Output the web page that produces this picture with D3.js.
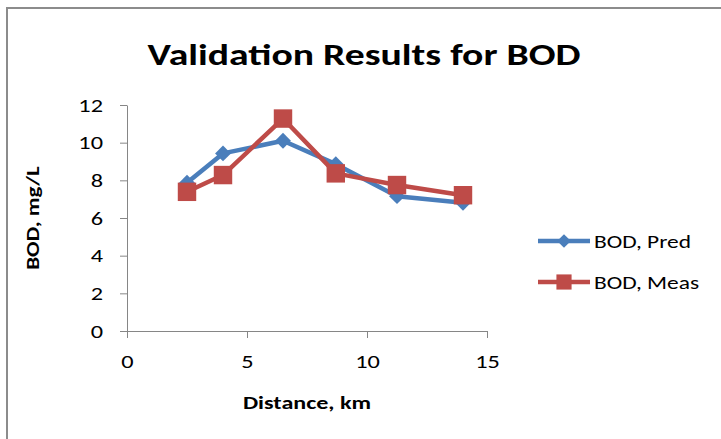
<!DOCTYPE html>
<html>
<head>
<meta charset="utf-8">
<script src="https://cdn.jsdelivr.net/npm/d3@7"></script>
<style>
  body { margin: 0; background: #fff; }
  text { font-family: Carlito, Lato, "Open Sans", sans-serif; }
</style>
</head>
<body>
<div id="chart"></div>
<script>
// Daten
const distance = [2.5, 4.0, 6.5, 8.7, 11.25, 14.0];
const bodPred = [7.87, 9.43, 10.1, 8.86, 7.16, 6.81];
const bodMeas = [7.39, 8.28, 11.28, 8.37, 7.75, 7.21];
const xTicks = [0, 5, 10, 15];
const yTicks = [0, 2, 4, 6, 8, 10, 12];
const seriesNames = ["BOD, Pred", "BOD, Meas"];
const seriesColors = ["#4a7ebb", "#be4b48"];

const W = 721, H = 439;
const STRETCH = 1.28; // Schrift im Original ist horizontal gestreckt

const svg = d3.select("#chart").append("svg")
    .attr("width", W)
    .attr("height", H);

// Text horizontal um seinen Ankerpunkt strecken
function stretch(sel, x0) {
    sel.attr("transform", `translate(${x0},0) scale(${STRETCH},1) translate(${-x0},0)`);
}

// Rahmen
svg.append("rect")
    .attr("x", 7).attr("y", 8)
    .attr("width", W).attr("height", H)
    .attr("fill", "#fff")
    .attr("stroke", "#8c8c8c")
    .attr("stroke-width", 2);

const x = d3.scaleLinear().domain([0, 15]).range([127, 487]);
const y = d3.scaleLinear().domain([0, 12]).range([331, 105]);

// Achsen
const xAxis = svg.append("g")
    .attr("transform", `translate(0,${y(0)})`)
    .call(d3.axisBottom(x).tickValues(xTicks).tickSizeInner(7).tickSizeOuter(0).tickPadding(17));
const yAxis = svg.append("g")
    .attr("transform", `translate(${x(0)},0)`)
    .call(d3.axisLeft(y).tickValues(yTicks).tickSizeInner(7).tickSizeOuter(0).tickPadding(17));

[xAxis, yAxis].forEach(g => {
    g.selectAll("path, line").attr("stroke", "#868686").attr("stroke-width", 1);
    g.selectAll("text")
        .attr("fill", "#000")
        .style("font-size", "19px");
});
xAxis.selectAll("text").each(function() { stretch(d3.select(this), 0); });
yAxis.selectAll("text").each(function() { stretch(d3.select(this), -24); });

// Titel
svg.append("text")
    .attr("x", 364).attr("y", 65)
    .attr("text-anchor", "middle")
    .style("font-size", "31px")
    .style("font-weight", "bold")
    .text("Validation Results for BOD")
    .call(stretch, 364);

svg.append("text")
    .attr("x", 307).attr("y", 409)
    .attr("text-anchor", "middle")
    .style("font-size", "18.8px")
    .style("font-weight", "bold")
    .text("Distance, km")
    .call(stretch, 307);

svg.append("text")
    .attr("transform", `translate(39,218) rotate(-90) scale(${STRETCH},1)`)
    .attr("text-anchor", "middle")
    .style("font-size", "18px")
    .style("font-weight", "bold")
    .text("BOD, mg/L");

// Linien
const line = d3.line().x(d => x(d[0])).y(d => y(d[1]));
const series = [bodPred, bodMeas];

series.forEach((vals, s) => {
    const pts = distance.map((d, i) => [d, vals[i]]);
    svg.append("path")
        .datum(pts)
        .attr("d", line)
        .attr("fill", "none")
        .attr("stroke", seriesColors[s])
        .attr("stroke-width", 4.5)
        .attr("stroke-linejoin", "round");
    const sym = s === 0 ? d3.symbolDiamond2 : d3.symbolSquare;
    const size = s === 0 ? 160 : 340;
    svg.selectAll(null)
        .data(pts)
        .enter().append("path")
        .attr("d", d3.symbol(sym, size))
        .attr("transform", d => `translate(${x(d[0])},${y(d[1])})`)
        .attr("fill", seriesColors[s]);
});

// Legende
seriesNames.forEach((name, s) => {
    const ly = 241 + s * 41;
    svg.append("line")
        .attr("x1", 538).attr("x2", 590)
        .attr("y1", ly).attr("y2", ly)
        .attr("stroke", seriesColors[s])
        .attr("stroke-width", 4.5);
    const sym = s === 0 ? d3.symbolDiamond2 : d3.symbolSquare;
    svg.append("path")
        .attr("d", d3.symbol(sym, s === 0 ? 120 : 230))
        .attr("transform", `translate(564,${ly})`)
        .attr("fill", seriesColors[s]);
    svg.append("text")
        .attr("x", 594).attr("y", ly + 7)
        .style("font-size", "18.3px")
        .text(name)
        .call(stretch, 594);
});
</script>
</body>
</html>
